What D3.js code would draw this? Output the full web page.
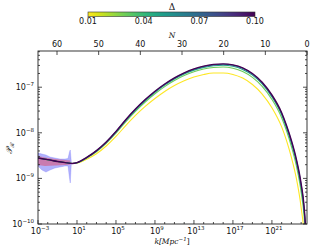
<!DOCTYPE html>
<html><head><meta charset="utf-8">
<script src="https://cdn.jsdelivr.net/npm/d3@7"></script>
<style>
html,body{margin:0;padding:0;background:#fff;}
svg{display:block;font-family:"DejaVu Sans",sans-serif;}
</style></head>
<body>
<svg id="c" width="312" height="249"></svg>
<script>
// ---- data (log10 k grid, log10 P_R per Δ) ----
const logK = [-3,-2,-1,0,0.5,1,2,3,4,5,6,7,8,9,10,11,12,13,14,15,16,17,18,19,20,21,22,22.5,23,23.5,24,24.3,24.5,24.6];
const deltas = [0.01,0.03,0.05,0.07,0.10];
const logP_001 = [-8.553,-8.588,-8.63,-8.66,-8.673,-8.665,-8.58,-8.46,-8.29,-8.08,-7.843,-7.62,-7.422,-7.248,-7.094,-6.964,-6.859,-6.778,-6.722,-6.69,-6.688,-6.72,-6.80,-6.94,-7.15,-7.45,-7.87,-8.17,-8.54,-8.99,-9.64,-10.22,-11.0,-11.6];
const logP_003 = [-8.553,-8.588,-8.63,-8.66,-8.673,-8.659,-8.554,-8.415,-8.23,-8.009,-7.759,-7.529,-7.325,-7.144,-6.987,-6.854,-6.745,-6.661,-6.602,-6.567,-6.558,-6.584,-6.654,-6.784,-6.981,-7.268,-7.669,-7.956,-8.30,-8.717,-9.302,-9.83,-10.55,-11.2];
const logP_005 = [-8.553,-8.588,-8.63,-8.66,-8.673,-8.657,-8.546,-8.40,-8.214,-7.987,-7.733,-7.501,-7.295,-7.112,-6.954,-6.82,-6.71,-6.625,-6.565,-6.529,-6.518,-6.54,-6.609,-6.736,-6.929,-7.212,-7.607,-7.89,-8.226,-8.633,-9.198,-9.71,-10.4,-11.1];
const logP_007 = [-8.553,-8.588,-8.63,-8.66,-8.673,-8.655,-8.542,-8.394,-8.205,-7.976,-7.72,-7.487,-7.28,-7.096,-6.937,-6.803,-6.693,-6.607,-6.546,-6.51,-6.498,-6.52,-6.586,-6.712,-6.903,-7.184,-7.576,-7.857,-8.189,-8.591,-9.146,-9.65,-10.335,-11.03];
const logP_010 = [-8.553,-8.588,-8.63,-8.66,-8.673,-8.655,-8.54,-8.39,-8.20,-7.97,-7.713,-7.48,-7.272,-7.088,-6.929,-6.794,-6.684,-6.598,-6.537,-6.50,-6.488,-6.51,-6.575,-6.70,-6.89,-7.17,-7.56,-7.84,-8.17,-8.57,-9.12,-9.62,-10.3,-11.0];
const seriesP = [logP_001,logP_003,logP_005,logP_007,logP_010];

// error bands at low k (log10 k, log10 P lower, log10 P upper)
const bandBlueK  = [-3.00,-2.59,-2.18,-1.77,-1.26,-0.74,-0.23,0.08,0.23,0.31,0.41];
const bandBlueLo = [-8.728,-8.816,-8.860,-8.816,-8.772,-8.750,-8.728,-8.728,-8.991,-9.101,-8.706];
const bandBlueHi = [-8.443,-8.465,-8.487,-8.531,-8.553,-8.575,-8.575,-8.564,-8.421,-8.377,-8.618];
const bandRedK  = [-3.00,-2.28,-1.26,-0.23,0.31];
const bandRedLo = [-8.706,-8.728,-8.717,-8.706,-8.695];
const bandRedHi = [-8.509,-8.542,-8.575,-8.596,-8.607];

// ticks
const kTicks = [-3,1,5,9,13,17,21];
const pTicks = [-10,-9,-8,-7];
const nTicks = [60,50,40,30,20,10,0];
const cbTicks = [0.01,0.04,0.07,0.10];

// ---- layout ----
const L=38,R=307,T=51,B=224;
const svg=d3.select("#c");
const x=d3.scaleLog().domain([1e-3,Math.pow(10,24.6)]).range([L,R]);
const y=d3.scaleLog().domain([1e-10,Math.pow(10,-6.206)]).range([B,T]);
const xN=d3.scaleLinear().domain([64.56,0]).range([L,R]);
const dnorm=d3.scaleLinear().domain([0.01,0.10]).range([1,0]);
const col=d=>d3.interpolateViridis(dnorm(d));

svg.append("defs").append("clipPath").attr("id","clip")
  .append("rect").attr("x",L).attr("y",T).attr("width",R-L).attr("height",B-T);

const g=svg.append("g").attr("clip-path","url(#clip)");

// bands
const area=d3.area().x(d=>x(Math.pow(10,d[0]))).y0(d=>y(Math.pow(10,d[1]))).y1(d=>y(Math.pow(10,d[2])));
g.append("path").datum(bandBlueK.map((k,i)=>[k,bandBlueLo[i],bandBlueHi[i]]))
  .attr("d",area).attr("fill","rgba(100,100,250,0.5)").attr("stroke","rgba(100,100,250,0.5)").attr("stroke-width",0.5);
g.append("path").datum(bandRedK.map((k,i)=>[k,bandRedLo[i],bandRedHi[i]]))
  .attr("d",area).attr("fill","rgba(225,70,100,0.5)");

// lines
const line=d3.line().x(d=>x(Math.pow(10,d[0]))).y(d=>y(Math.pow(10,d[1]))).curve(d3.curveMonotoneX);
deltas.forEach((dv,i)=>{
  g.append("path").datum(logK.map((k,j)=>[k,seriesP[i][j]]))
   .attr("d",line).attr("fill","none").attr("stroke",col(dv))
   .attr("stroke-width",i===deltas.length-1?1.4:1.1);
});

// frame
svg.append("rect").attr("x",L).attr("y",T).attr("width",R-L).attr("height",B-T)
  .attr("fill","none").attr("stroke","#222").attr("stroke-width",0.9);

const tk=svg.append("g").attr("stroke","#222").attr("stroke-width",0.8);
// y ticks major + minor both sides
pTicks.forEach(p=>{const v=y(Math.pow(10,p));
  tk.append("line").attr("x1",L).attr("x2",L+4).attr("y1",v).attr("y2",v);
  tk.append("line").attr("x1",R).attr("x2",R-4).attr("y1",v).attr("y2",v);
  for(let m=2;m<10;m++){const vv=Math.pow(10,p)*m; if(vv>y.domain()[1])break; const yy=y(vv);
    tk.append("line").attr("x1",L).attr("x2",L+2).attr("y1",yy).attr("y2",yy);
    tk.append("line").attr("x1",R).attr("x2",R-2).attr("y1",yy).attr("y2",yy);}
});
// bottom ticks
kTicks.forEach(k=>{const v=x(Math.pow(10,k));
  tk.append("line").attr("x1",v).attr("x2",v).attr("y1",B).attr("y2",B-4);});
for(let k=-2;k<=24;k++){ if(kTicks.includes(k))continue; const v=x(Math.pow(10,k));
  tk.append("line").attr("x1",v).attr("x2",v).attr("y1",B).attr("y2",B-2);}
// top ticks
nTicks.forEach(n=>{const v=xN(n);
  tk.append("line").attr("x1",v).attr("x2",v).attr("y1",T).attr("y2",T+4);});

// labels
const lab=svg.append("g").attr("fill","#111").attr("font-size",8);
pTicks.forEach(p=>{const t=lab.append("text").attr("x",34).attr("y",y(Math.pow(10,p))+3).attr("text-anchor","end");
  t.append("tspan").text("10");
  t.append("tspan").attr("font-size",5.5).attr("dy",-4).text("\u2212"+(-p));
});
kTicks.forEach(k=>{const t=lab.append("text").attr("x",x(Math.pow(10,k))+2).attr("y",234).attr("text-anchor","middle");
  t.append("tspan").text("10");
  t.append("tspan").attr("font-size",5.5).attr("dy",-4).text(k<0?"\u2212"+(-k):String(k));
});
nTicks.forEach(n=>{lab.append("text").attr("x",xN(n)).attr("y",47).attr("text-anchor","middle").text(n);});

// axis titles
lab.append("text").attr("x",172).attr("y",38).attr("text-anchor","middle")
  .attr("font-family","DejaVu Serif,serif").attr("font-style","italic").attr("font-size",7.5).text("N");
const xl=lab.append("text").attr("x",172).attr("y",244).attr("text-anchor","middle")
  .attr("font-family","DejaVu Serif,serif").attr("font-style","italic").attr("font-size",7.5);
xl.append("tspan").text("k[Mpc");
xl.append("tspan").attr("font-size",5.5).attr("dy",-3.5).text("\u22121");
xl.append("tspan").attr("dy",3.5).attr("font-style","normal").text("]");
const yl=lab.append("text").attr("transform","translate(12,148) rotate(-90)").attr("text-anchor","middle")
  .attr("font-family","DejaVu Serif,serif").attr("font-style","italic").attr("font-size",8.5);
yl.append("tspan").text("\uD835\uDCAB");
yl.append("tspan").attr("font-size",5.5).attr("dy",2).text("\u211B");

// colorbar
const cbL=88,cbR=255,cbT=12,cbB=16.5;
const grad=svg.select("defs").append("linearGradient").attr("id","cb");
d3.range(0,1.0001,0.05).forEach(t=>grad.append("stop").attr("offset",t).attr("stop-color",d3.interpolateViridis(1-t)));
svg.append("rect").attr("x",cbL).attr("y",cbT).attr("width",cbR-cbL).attr("height",cbB-cbT)
  .attr("fill","url(#cb)").attr("stroke","#333").attr("stroke-width",0.6);
const cbx=d3.scaleLinear().domain([0.01,0.10]).range([cbL,cbR]);
cbTicks.forEach(v=>{
  svg.append("line").attr("x1",cbx(v)).attr("x2",cbx(v)).attr("y1",cbB).attr("y2",cbB+1.5).attr("stroke","#333").attr("stroke-width",0.6);
  lab.append("text").attr("x",cbx(v)).attr("y",24).attr("text-anchor","middle").text(v.toFixed(2));
});
lab.append("text").attr("x",172).attr("y",9.5).attr("text-anchor","middle").attr("font-size",9)
  .attr("font-family","DejaVu Serif,serif").text("\u0394");
</script>
</body></html>
